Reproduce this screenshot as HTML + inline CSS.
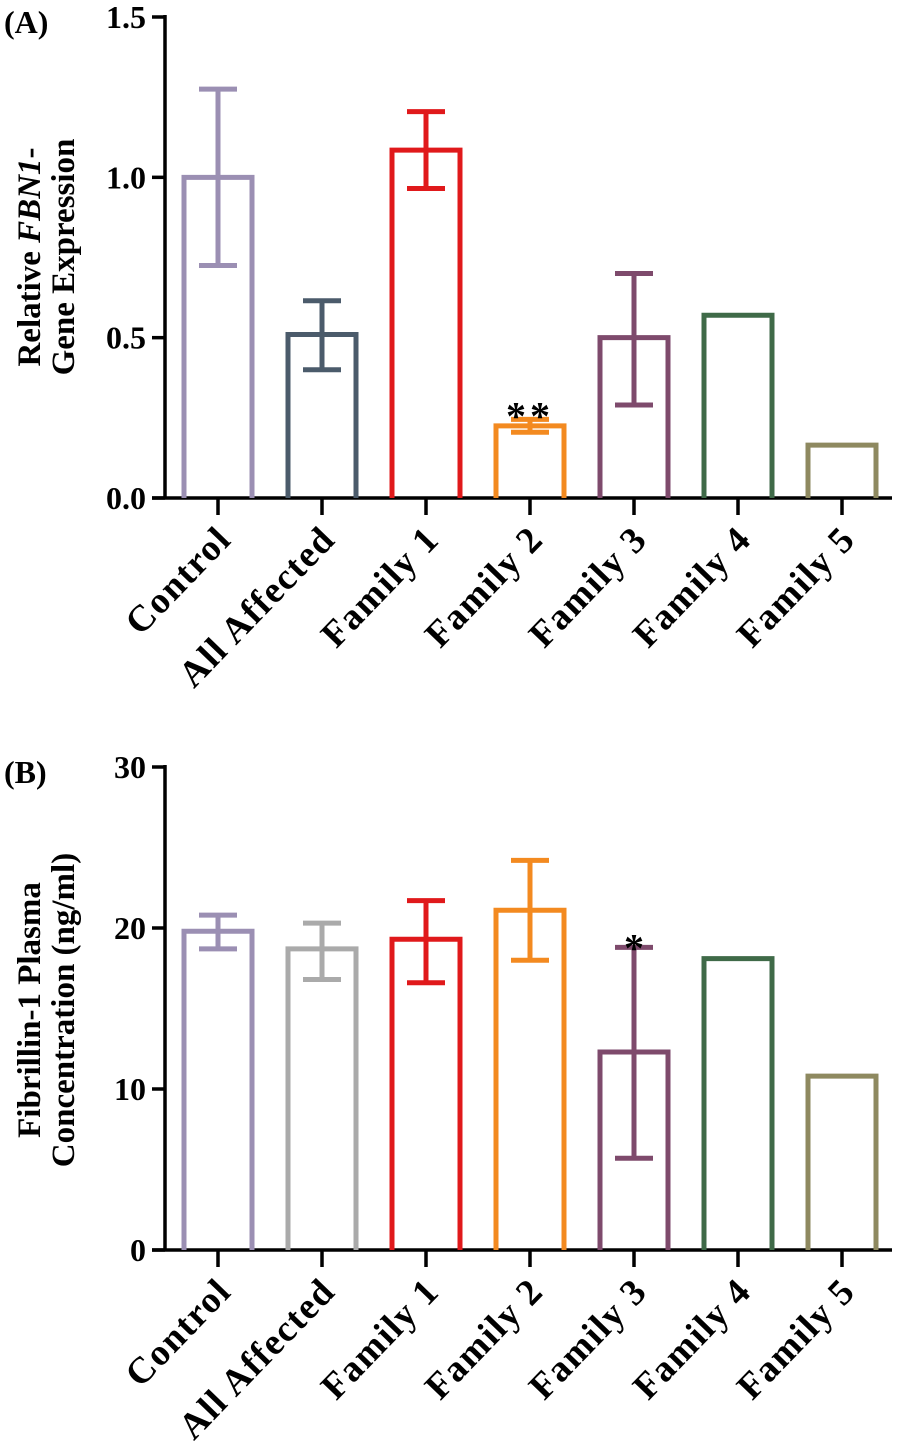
<!DOCTYPE html>
<html><head><meta charset="utf-8"><style>
html,body{margin:0;padding:0;background:#fff;}
svg{display:block;font-family:"Liberation Serif",serif;font-weight:bold;}
</style></head><body>
<svg id="c" width="901" height="1450" viewBox="0 0 901 1450" xmlns="http://www.w3.org/2000/svg"></svg>
<script>
const categories=["Control","All Affected","Family 1","Family 2","Family 3","Family 4","Family 5"];
const valuesA=[1.0,0.51,1.085,0.225,0.5,0.57,0.165];
const errLowA=[0.725,0.40,0.965,0.205,0.29,null,null];
const errHighA=[1.275,0.615,1.205,0.245,0.70,null,null];
const ticksA=["0.0","0.5","1.0","1.5"];
const tickValsA=[0,0.5,1.0,1.5];
const valuesB=[19.8,18.7,19.3,21.1,12.3,18.1,10.8];
const errLowB=[18.7,16.8,16.6,18.0,5.7,null,null];
const errHighB=[20.8,20.3,21.7,24.2,18.8,null,null];
const ticksB=["0","10","20","30"];
const tickValsB=[0,10,20,30];
const colorsA=["#9b8fb3","#4b5b6b","#e0191b","#f38a20","#7e4a6c","#3f6a48","#8e8960"];
const colorsB=["#9b8fb3","#aaaaaa","#e0191b","#f38a20","#7e4a6c","#3f6a48","#8e8960"];
const svg=document.getElementById('c');
const NS="http://www.w3.org/2000/svg";
function mk(tag,at,txt){const e=document.createElementNS(NS,tag);for(const k in at)e.setAttribute(k,at[k]);if(txt!==undefined)e.textContent=txt;svg.appendChild(e);return e;}
function panel(p){
  const x0=165,step=104,bw=68,first=184;
  const y=v=>p.yb-(v-p.min)/(p.max-p.min)*(p.yb-p.yt);
  const xc=i=>first+bw/2+i*step;
  let e=mk('line',{x1:x0,y1:p.yt-2,x2:x0,y2:p.yb+1.5,stroke:'#000','stroke-width':3.5});
  
  e=mk('line',{x1:152,y1:p.yb,x2:892,y2:p.yb,stroke:'#000','stroke-width':3.5});
  
  p.tv.forEach((v,i)=>{
    e=mk('line',{x1:152,y1:y(v),x2:x0,y2:y(v),stroke:'#000','stroke-width':3.5});
    
    e=mk('text',{x:146,y:y(v)+11,'text-anchor':'end','font-size':32},p.tl[i]);
    
  });
  categories.forEach((c,i)=>{
    const cx=xc(i),v=p.vals[i],col=p.cols[i];
    e=mk('path',{d:`M${cx-bw/2},${p.yb} V${y(v)} H${cx+bw/2} V${p.yb}`,fill:'none',stroke:col,'stroke-width':5});
    
    if(p.lo[i]!=null){
      e=mk('path',{d:`M${cx},${y(p.lo[i])} V${y(p.hi[i])} M${cx-19},${y(p.lo[i])} H${cx+19} M${cx-19},${y(p.hi[i])} H${cx+19}`,fill:'none',stroke:col,'stroke-width':5});
      
    }
    e=mk('line',{x1:cx,y1:p.yb,x2:cx,y2:p.yb+17,stroke:'#000','stroke-width':3.5});
    
    const lx=cx+15,ly=p.yb+43;
    e=mk('text',{x:lx,y:ly,'text-anchor':'end','font-size':37,'letter-spacing':1.5,transform:`rotate(-46 ${lx} ${ly})`},c);
    
  });
  e=mk('text',{x:4,y:p.yt+16,'font-size':32},p.label);
  
  return {y,xc};
}
const A=panel({id:'a',yb:498,yt:17,min:0,max:1.5,vals:valuesA,lo:errLowA,hi:errHighA,cols:colorsA,tl:ticksA,tv:tickValsA,label:'(A)'});
const B=panel({id:'b',yb:1250,yt:767,min:0,max:30,vals:valuesB,lo:errLowB,hi:errHighB,cols:colorsB,tl:ticksB,tv:tickValsB,label:'(B)'});
let e=mk('text',{x:A.xc(3),y:A.y(errHighA[3])+10,'text-anchor':'middle','font-size':40,'letter-spacing':4},'**');

e=mk('text',{x:B.xc(4),y:B.y(errHighB[4])+14,'text-anchor':'middle','font-size':40},'*');

e=mk('text',{transform:'translate(40 257) rotate(-90)','text-anchor':'middle','font-size':33});
e.innerHTML='Relative <tspan font-style="italic">FBN1</tspan>-';

e=mk('text',{transform:'translate(74 257) rotate(-90)','text-anchor':'middle','font-size':33},'Gene Expression');

e=mk('text',{transform:'translate(40 1010) rotate(-90)','text-anchor':'middle','font-size':33},'Fibrillin-1 Plasma');

e=mk('text',{transform:'translate(74 1010) rotate(-90)','text-anchor':'middle','font-size':33},'Concentration (ng/ml)');

</script>
</body></html>
